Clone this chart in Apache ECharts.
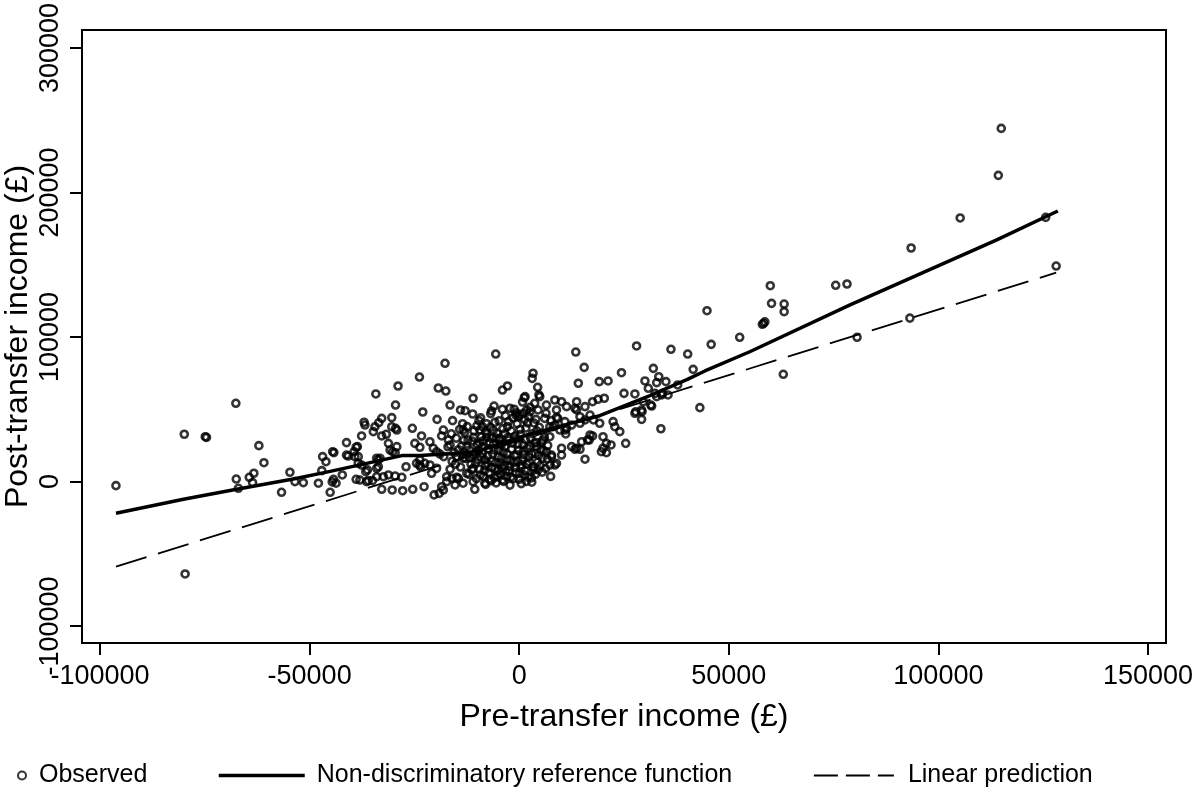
<!DOCTYPE html>
<html><head><meta charset="utf-8">
<script src="https://cdn.jsdelivr.net/npm/echarts@6/dist/echarts.min.js"></script>
<style>html,body{margin:0;padding:0;background:#fff}#c{width:1195px;height:798px}</style>
</head><body><div id="c"></div>
<script>
// Tick labels
const xTicks = [-100000, -50000, 0, 50000, 100000, 150000];
const yTicks = [-100000, 0, 100000, 200000, 300000];

// Observed points [pre-transfer, post-transfer] (£)
const observedLeft = [
[-96200,-2900],[-79900,32700],[-74900,31000],[-74600,30500],[-67600,54100],[-79700,-64000],
[-62100,24800],[-60900,13000],[-67500,1700],[-67000,-4700],[-64400,2900],[-63300,5700],[-63600,-800],[-56700,-7500],[-54700,6400],[-53500,-100],[-51500,-800],[-47900,-1200],[-47100,7500],[-46900,17200],[-46100,13700],[-44500,20600],[-44200,20000],[-45100,-7500],[-44300,1500],[-43700,-1200],[-42200,4500],[-41200,26900],[-40800,17600],[-38900,23700],[-38400,17200],[-39400,20600],[-37600,31500],[-37000,41000],[-36600,6800],[-38900,1500],[-38000,1000],[-36000,600],[-35000,600],[-34800,34500],[-34400,37900],[-34200,60600],[-34000,9100],[-33600,14900],[-44600,-300]
];
const observedMidLeft = [
[-5600,88200],[-17700,81800],[-23800,72300],[-28900,66100],[-19300,64700],[-17500,62600],[-29500,52900],[-23000,48100],[-16500,52900],[-11000,57600],[-14000,49500],[-12900,49000],[-11100,46700],[-19600,43000],[-15900,42100],[-6000,52200],[-6600,48800],[-4000,50000],[-2800,66100],[-4000,63300],[-32800,43700],[-33500,40700],[-30400,44200],[-29500,36800],[-32800,31500],[-31700,32700],[-25500,36800],[-38600,24100],[-34000,16100],[-33600,10200],[-36200,8000],[-31200,26400],[-30800,21800],[-29600,19900],[-24900,26400],[-23700,23700],[-21300,27500],[-20500,23000],[-27000,10200],[-23700,14900],[-22500,12600],[-23800,11400],[-18100,35600],[-18500,31500],[-13400,35600],[-16900,28700],[-16500,25300],[-12200,28700],[-13700,24600],[-9600,42100],[-8800,37900],[-9400,35600],[-7800,30600],[-6600,29900],[-4600,29900],[-36400,-100],[-32400,3300],[-31200,4500],[-29600,3800],[-28000,2900],[-32800,-5400],[-30300,-5900],[-27800,-6400],[-25400,-5400],[-22700,-3600],[-20300,-9300],[-19100,-8200],[-18100,-5900],[-21300,11400],[-19700,9100],[-20900,5700],[-17300,3300],[-16100,2200],[-14500,2200],[-15300,-2400],[-13400,-1200],[-11000,-100],[-10600,-5400],[-8200,-1200],
[-23300,31500],[-19700,20600],[-18900,19000],[-18000,17200],[-14900,17200],[-13400,16100],[-11800,21800],[-11000,18300],[-9400,26400],[-8700,19500],[-8200,14900],[-11000,9100],[-12500,5700],[-14900,2900],[-17300,-100],[-18500,-3600],[-37600,11400],[-34000,3300],[-33200,16100],[-29200,24100],[-30200,20600],[-24500,12600],[-23500,10200],[-39200,17200],[-38400,12600],[-41200,18300],[-36800,39100],[-30400,37900],[-29200,35600]
];
const observedCore = [
[-12000,5000],[-11500,12000],[-11200,28000],[-10800,35000],[-10500,20000],[-10200,2000],[-9800,15000],[-9500,8500],[-9000,31000],[-8800,24000],[-8500,3500],[-8100,11000],[-7800,40000],[-7500,18000],[-7200,6000],[-7000,27000],[-6700,500],[-6500,14000],[-6200,35500],[-6000,22000],[-5800,9000],[-5500,30000],[-5200,4000],[-5000,17500],[-4800,42000],[-4500,12500],[-4300,25500],[-4000,1000],[-3800,20500],[-3500,33000],[-3200,7000],[-3000,15500],[-2800,38000],[-2500,28500],[-2300,10500],[-2000,3000],[-1800,22500],[-1500,44000],[-1300,13000],[-1000,31500],[-800,6000],[-600,18500],[-300,26000],[0,1500],[200,36000],[400,9500],[700,15000],[1000,21000],[1200,4500],[1500,29000],[1800,12000],[2000,40500],[2300,17000],[2600,24500],[2900,2500],[3200,33000],[3500,8000],[3800,19500],[4100,27000],[4400,13500],[4800,37500],[5200,22000],[5500,6500],[6000,30500],[-13000,34000],[-12500,24000],[-14000,10000],[-13500,40000],[-15000,30000],[-14500,22000],[-16000,14000],[-9200,44000],[-6800,47000],[-3700,0],[-2200,-2500],[500,-1500],[1700,0],[3000,-500],[-5500,-1000],[-8000,-2000],[2200,45000],[4000,43000],[-1200,50000],[800,55000],[-500,40000],[5500,16000],[6800,25000],[7500,3500],[-4000,9500],[-7700,33000],[-10000,25500]
];
const observedCoreExtra = [
[-11800,16500],[-11300,8000],[-10900,30500],[-10400,13000],[-10100,38500],[-9700,21500],[-9300,4500],[-9100,17000],[-8700,28000],[-8300,7500],[-8000,34500],[-7600,12500],[-7300,22500],[-7100,1500],[-6900,37500],[-6600,9500],[-6300,19000],[-6100,26000],[-5900,2500],[-5600,13000],[-5300,33500],[-5100,7500],[-4900,21500],[-4700,28500],[-4400,5000],[-4200,16000],[-3900,36500],[-3600,11000],[-3400,24000],[-3100,3500],[-2900,19000],[-2700,30500],[-2400,7500],[-2100,14500],[-1900,35000],[-1600,26500],[-1400,2000],[-1100,18000],[-900,9500],[-700,29500],[-400,14000],[-200,21500],[100,5500],[300,32500],[600,11500],[900,25500],[1100,18500],[1400,7500],[1600,37000],[1900,23000],[2100,3000],[2400,13500],[2700,30000],[3000,19000],[3300,10000],[3600,26500],[3900,5000],[4200,35000],[4600,18000],[5000,11000],[5400,27500],[5800,21500],[6300,9000],[6700,15500],[-12800,16000],[-13200,28500],[-14200,36000],[-15500,20000],[-16500,8500],[-12400,38000],[-13800,19000],[-15200,12000],[-17000,24000],[-16200,33000],[-600,47500],[1300,43000],[-3300,45500],[-5800,41000],[3500,40500],[-2600,41500]
];
const observedRight = [
[200,46000],[-200,44800],[1800,49500],[2600,48300],[3700,54100],[4500,49500],[6500,52900],[8500,56400],[10100,55200],[11300,51800],[13700,55200],[15700,51800],[17500,55200],[18800,56900],[6400,47200],[8900,49500],[9200,43700],[8500,39100],[11300,36800],[12500,39100],[13700,49500],[14500,44800],[15700,42600],[16900,46000],[17700,42600],
[28000,93800],[36200,91500],[40200,88200],[13500,89600],[15500,79000],[24400,75300],[32000,78300],[41500,77600],[14100,68000],[19100,69100],[21200,69600],[30000,69600],[33300,72500],[32800,68400],[35000,69100],[37800,66800],[43100,51100],[33800,36500],[3300,74900],[3100,71400],[4400,65200],[4700,59900],[1200,58000],[20300,57600],[25000,61000],[27600,60600],[30800,64500],[32400,61000],[34000,59900],[29600,55200],[31400,52900],[27800,48300],[29300,48300],[29200,43000],[22400,41400],[24000,34500],[25400,26400],[20000,31000],[20800,26400],[20000,23000],[21900,25300],[17500,31500],[16300,28700],[14900,27500],[13700,23000],[15700,15400],[19200,40300],[6100,43700],[7600,42100],[8900,44400],[10900,41400],[7300,37900],[9700,35600],[11100,32900],[13300,50700],[10100,18300],[7700,18300],[8900,12600],[7300,11400],[8500,11400],
[44800,118200],[52600,99800],[45800,94900],[16700,28700],[19600,20600],[20800,19900],[16900,32200],[12500,24100],[13300,22300],[14500,22300],[7700,17200],[6500,20600],[10100,23000],[3400,10200],[4500,8000],[4100,24100],[5700,28700],[7300,31000],[8100,37900],[10900,35600],[14500,40300],[22800,37900],[27600,47200],[29200,49500],[31600,52200],[32800,58700],[34200,61000],[35500,59900],[4900,58700],[1400,58700],[2600,51300],[1000,47200],[-800,46000],[-2200,50700]
];
const observedFar = [
[115000,244400],[114300,211900],[105200,182400],[125600,182800],[93500,161600],[128100,149100],[93200,113100],[80600,99800],[75500,135800],[78200,136700],[59900,135500],[60200,123300],[63200,122800],[63200,117500],[58300,109500],[58600,110500],[58000,108800],[63000,74200]
];

// Non-discriminatory reference function
const referenceFunction = [
[-96200,-22000],[-80100,-12300],[-67400,-5400],[-53900,1700],[-45100,7000],[-38800,11000],[-28000,17900],[-23700,17900],[-18900,18800],[-14000,19500],[-10500,20500],[-7800,23000],[-3000,27500],[1800,32200],[10000,38500],[19200,45500],[31200,59500],[40000,70500],[44300,76500],[55000,89800],[78800,122100],[113800,167100],[128500,187200]
];
// Linear prediction
const linearPrediction = [[-96200,-59000],[128100,144500]];

const observed = observedLeft.concat(observedMidLeft, observedCore, observedCoreExtra, observedRight, observedFar);

const F = '"Liberation Sans", Arial, Helvetica, sans-serif';
const chart = echarts.init(document.getElementById('c'), null, {renderer: 'canvas'});
const legText = {fontSize: 25, color: '#000', fontFamily: F};
chart.setOption({
  animation: false,
  backgroundColor: '#fff',
  textStyle: {fontFamily: F, color: '#000'},
  grid: {left: 82, right: 29, top: 30, bottom: 155, containLabel: false, outerBoundsMode: 'none',
         show: true, borderColor: '#000', borderWidth: 2, backgroundColor: 'transparent'},
  xAxis: {
    type: 'value', min: -104300, max: 154300,
    name: 'Pre-transfer income (£)', nameLocation: 'middle', nameGap: 58, nameMoveOverlap: false,
    nameTextStyle: {fontSize: 32, color: '#000', fontFamily: F},
    axisLine: {show: true, onZero: false, lineStyle: {color: '#000', width: 2}},
    axisTick: {show: true, customValues: xTicks, length: 12, lineStyle: {color: '#000', width: 2}},
    axisLabel: {customValues: xTicks, fontSize: 27, color: '#000', margin: 20, fontFamily: F, formatter: v => String(v)},
    splitLine: {show: false}
  },
  yAxis: {
    type: 'value', min: -111800, max: 312500,
    name: 'Post-transfer income (£)', nameLocation: 'middle', nameGap: 48, nameMoveOverlap: false,
    nameTextStyle: {fontSize: 32, color: '#000', fontFamily: F},
    axisLine: {show: true, onZero: false, lineStyle: {color: '#000', width: 2}},
    axisTick: {show: true, customValues: yTicks, length: 12, lineStyle: {color: '#000', width: 2}},
    axisLabel: {customValues: yTicks, rotate: 90, fontSize: 27, color: '#000', margin: 18, fontFamily: F, formatter: v => String(v)},
    splitLine: {show: false}
  },
  legend: [
    {data: ['Observed'], left: 17, top: 763, padding: 0, itemWidth: 24, itemHeight: 8, icon: 'circle',
     itemStyle: {color: 'rgba(0,0,0,0)', borderColor: '#000', borderWidth: 2}, textStyle: legText},
    {data: ['Non-discriminatory reference function'], left: 217, top: 763, padding: 0, itemWidth: 86, itemHeight: 10,
     lineStyle: {color: '#000', width: 3.5, type: 'solid'}, itemStyle: {opacity: 0},
     textStyle: Object.assign({padding: [0, 0, 0, 7]}, legText)},
    {data: ['Linear prediction'], left: 813, top: 763, padding: 0, itemWidth: 80, itemHeight: 10,
     lineStyle: {color: '#000', width: 1.8, type: [24, 8]}, itemStyle: {opacity: 0},
     textStyle: Object.assign({padding: [0, 0, 0, 9]}, legText)}
  ],
  series: [
    {name: 'Observed', type: 'scatter', data: observed, symbol: 'circle', symbolSize: 7,
     itemStyle: {color: 'rgba(0,0,0,0)', borderColor: '#000', borderWidth: 2.6}, z: 2},
    {name: 'Non-discriminatory reference function', type: 'line', data: referenceFunction, symbol: 'none',
     lineStyle: {color: '#000', width: 3.5}, z: 3},
    {name: 'Linear prediction', type: 'line', data: linearPrediction, symbol: 'none',
     lineStyle: {color: '#000', width: 1.8, type: [32, 12]}, z: 3}
  ]
});
</script></body></html>
